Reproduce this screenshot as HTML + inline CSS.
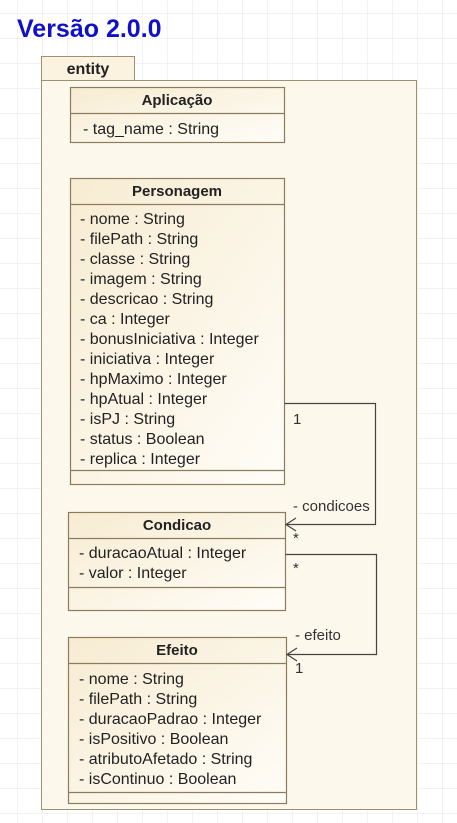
<!DOCTYPE html>
<html><head><meta charset="utf-8"><style>
html,body{margin:0;padding:0;background:#fff;}
svg{display:block;font-family:"Liberation Sans",Arial,sans-serif;}
</style></head><body>
<svg width="457" height="823" viewBox="0 0 457 823" xmlns="http://www.w3.org/2000/svg">
<defs>
<pattern id="g" width="25" height="25" patternUnits="userSpaceOnUse" x="17" y="13">
<path d="M0 0H25M0 0V25" stroke="#e6e6e6" stroke-width="1" fill="none"/>
</pattern>
<linearGradient id="cf" x1="0" y1="0" x2="1" y2="1">
<stop offset="0" stop-color="#f7ecd2"/><stop offset="1" stop-color="#fffdf8"/>
</linearGradient>
</defs>
<rect width="457" height="823" fill="url(#g)"/>
<text x="17" y="37" font-size="25" font-weight="bold" fill="#1010c8">Versão 2.0.0</text>
<!-- package -->
<rect x="41.5" y="56.5" width="93" height="24" fill="#fbf3df" stroke="#a09070"/>
<text x="88" y="74" font-size="16" font-weight="bold" text-anchor="middle" fill="#222">entity</text>
<rect x="41.5" y="80.5" width="375" height="729" fill="#fdf8ec" stroke="#a09070"/>
<g font-size="16" fill="#222" stroke-width="1.2">
<!-- Aplicacao -->
<rect x="70.5" y="87.5" width="214" height="55" fill="url(#cf)" stroke="#8c7c5c"/>
<line x1="70.5" y1="113.5" x2="284.5" y2="113.5" stroke="#8c7c5c"/>
<text x="177" y="105" font-size="15" font-weight="bold" text-anchor="middle">Aplicação</text>
<text x="83" y="134">- tag_name : String</text>
<!-- Personagem -->
<rect x="70.5" y="178.5" width="214" height="306" fill="url(#cf)" stroke="#8c7c5c"/>
<line x1="70.5" y1="204.5" x2="284.5" y2="204.5" stroke="#8c7c5c"/>
<line x1="70.5" y1="470.5" x2="284.5" y2="470.5" stroke="#8c7c5c"/>
<text x="177" y="196" font-size="15" font-weight="bold" text-anchor="middle">Personagem</text>
<text x="80" y="224">- nome : String</text>
<text x="80" y="244">- filePath : String</text>
<text x="80" y="264">- classe : String</text>
<text x="80" y="284">- imagem : String</text>
<text x="80" y="304">- descricao : String</text>
<text x="80" y="324">- ca : Integer</text>
<text x="80" y="344">- bonusIniciativa : Integer</text>
<text x="80" y="364">- iniciativa : Integer</text>
<text x="80" y="384">- hpMaximo : Integer</text>
<text x="80" y="404">- hpAtual : Integer</text>
<text x="80" y="424">- isPJ : String</text>
<text x="80" y="444">- status : Boolean</text>
<text x="80" y="464">- replica : Integer</text>
<!-- Condicao -->
<rect x="68.5" y="512.5" width="217" height="98" fill="url(#cf)" stroke="#8c7c5c"/>
<line x1="68.5" y1="538.5" x2="285.5" y2="538.5" stroke="#8c7c5c"/>
<line x1="68.5" y1="587.5" x2="285.5" y2="587.5" stroke="#8c7c5c"/>
<text x="177" y="530" font-size="15" font-weight="bold" text-anchor="middle">Condicao</text>
<text x="79" y="558">- duracaoAtual : Integer</text>
<text x="79" y="578">- valor : Integer</text>
<!-- Efeito -->
<rect x="68.5" y="637.5" width="218" height="166" fill="url(#cf)" stroke="#8c7c5c"/>
<line x1="68.5" y1="663.5" x2="286.5" y2="663.5" stroke="#8c7c5c"/>
<line x1="68.5" y1="792.5" x2="286.5" y2="792.5" stroke="#8c7c5c"/>
<text x="177" y="655" font-size="15" font-weight="bold" text-anchor="middle">Efeito</text>
<text x="79" y="684">- nome : String</text>
<text x="79" y="704">- filePath : String</text>
<text x="79" y="724">- duracaoPadrao : Integer</text>
<text x="79" y="744">- isPositivo : Boolean</text>
<text x="79" y="764">- atributoAfetado : String</text>
<text x="79" y="784">- isContinuo : Boolean</text>
</g>
<!-- connectors -->
<g fill="none" stroke="#444" stroke-width="1.2">
<polyline points="284.5,403.5 375.5,403.5 375.5,524.5 286,524.5"/>
<polyline points="296,518 286,524.5 296,531"/>
<polyline points="285.5,554.5 376.5,554.5 376.5,654.5 287,654.5"/>
<polyline points="297,648 287,654.5 297,661"/>
</g>
<g font-size="15" fill="#333">
<text x="293" y="424">1</text>
<text x="293" y="511">- condicoes</text>
<text x="293" y="543">*</text>
<text x="293" y="573">*</text>
<text x="295" y="640">- efeito</text>
<text x="295" y="673">1</text>
</g>
</svg>
</body></html>
